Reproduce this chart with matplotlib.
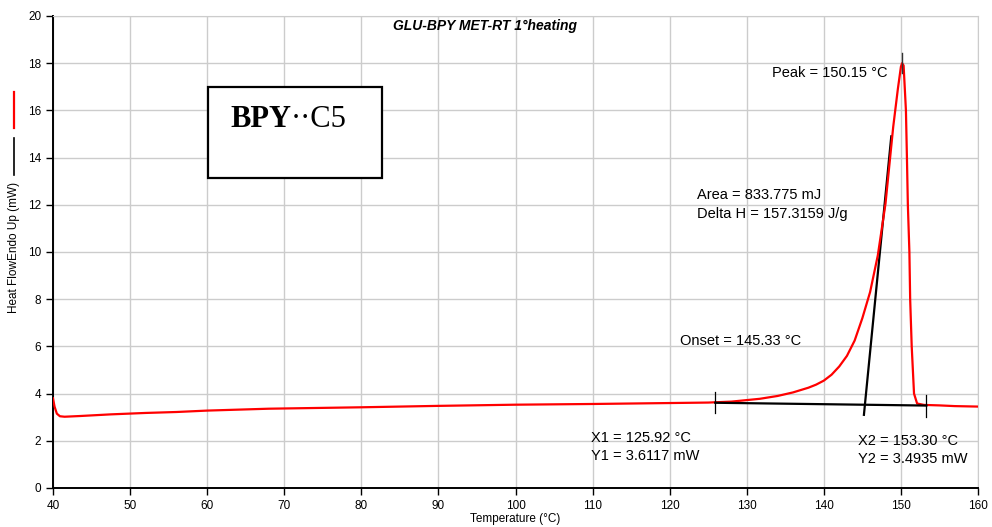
import matplotlib
matplotlib.use("Agg")
import matplotlib.pyplot as plt
from matplotlib.patches import Rectangle
from matplotlib.lines import Line2D

plt.rcParams['font.family'] = ['Liberation Sans', 'DejaVu Sans']

# DSC curve
temp = [40, 40.2, 40.5, 40.9, 41.5, 43.5, 47.5, 52, 56, 60, 64, 68, 72, 80, 90, 100,
        110, 120, 125, 128, 131.7, 134, 136, 138, 139, 140, 141, 142, 143, 144, 145,
        146, 147, 148, 149, 149.6, 150.0, 150.15, 150.35, 150.65, 150.78, 150.9, 151.1,
        151.2, 151.4, 151.7, 152.1, 153, 155, 157, 160]
flow = [3.8, 3.45, 3.15, 3.04, 3.02, 3.05, 3.12, 3.18, 3.22, 3.28, 3.32, 3.36, 3.38,
        3.42, 3.48, 3.53, 3.56, 3.6, 3.62, 3.66, 3.78, 3.9, 4.05, 4.25, 4.38, 4.55,
        4.8, 5.15, 5.6, 6.25, 7.2, 8.3, 9.85, 12.05, 15.3, 16.9, 17.85, 18.0, 17.9,
        16.0, 14.0, 12.0, 10.0, 8.0, 6.0, 4.0, 3.58, 3.52, 3.5, 3.47, 3.45]

x1, y1 = 125.92, 3.6117
x2, y2 = 153.30, 3.4935
onset = 145.33
peak_t, peak_h = 150.15, 18.0
tangent_t = [145.2, 148.75]
tangent_h = [3.1, 14.9]

fig = plt.figure(figsize=(9.92, 5.27), dpi=100)
ax = fig.add_axes([53/992, 39/527, 925/992, 472/527])

ax.plot(temp, flow, color='red', lw=1.6, zorder=3)
ax.plot([x1, x2], [y1, y2], color='black', lw=1.6, zorder=4)
ax.plot([x1, x1], [y1 - 0.45, y1 + 0.45], color='black', lw=0.9, zorder=4)
ax.plot([x2, x2], [y2 - 0.5, y2 + 0.45], color='black', lw=0.9, zorder=4)
ax.plot(tangent_t, tangent_h, color='black', lw=1.6, zorder=2.5)
ax.plot([peak_t, peak_t], [17.6, 18.42], color='#333333', lw=1.0, zorder=4)

ax.set_xlim(40, 160)
ax.set_ylim(0, 20)
ax.set_xticks(range(40, 161, 10))
ax.set_yticks(range(0, 21, 2))
ax.grid(True, color='#cccccc', lw=1.0)
ax.set_axisbelow(True)
for s in ['top', 'right']:
    ax.spines[s].set_color('#cccccc')
for s in ['left', 'bottom']:
    ax.spines[s].set_linewidth(1.4)
ax.tick_params(labelsize=8.5, length=5, width=1.0, colors='black')
ax.set_xlabel('Temperature (°C)', fontsize=8.5, labelpad=1)
ax.set_ylabel('Heat FlowEndo Up (mW)', fontsize=8.5)
ax.yaxis.set_label_coords(-0.0357, 0.51)

ax.text(96.0, 19.58, 'GLU-BPY MET-RT 1°heating', fontsize=10, fontweight='bold',
        fontstyle='italic', ha='center', va='center')

fs = 10.5
ax.text(133.3, 17.58, 'Peak = 150.15 °C', fontsize=fs, va='center')
ax.text(123.55, 12.4, 'Area = 833.775 mJ', fontsize=fs, va='center')
ax.text(123.55, 11.6, 'Delta H = 157.3159 J/g', fontsize=fs, va='center')
ax.text(121.3, 6.23, 'Onset = 145.33 °C', fontsize=fs, va='center')
ax.text(109.8, 2.12, 'X1 = 125.92 °C', fontsize=fs, va='center')
ax.text(109.8, 1.36, 'Y1 = 3.6117 mW', fontsize=fs, va='center')
ax.text(144.4, 2.0, 'X2 = 153.30 °C', fontsize=fs, va='center')
ax.text(144.4, 1.24, 'Y2 = 3.4935 mW', fontsize=fs, va='center')

box = Rectangle((60.1, 13.14), 22.6, 3.85, facecolor='white', edgecolor='black',
                lw=1.6, zorder=5)
ax.add_patch(box)
ax.text(63.0, 15.3, 'BPY', fontsize=22, fontweight='bold', family='Liberation Serif',
        va='baseline', zorder=6)
ax.text(70.9, 15.3, '··C5', fontsize=22, family='Liberation Serif',
        va='baseline', zorder=6)

# small series marks beside the y label
fig.add_artist(Line2D([13.5/992, 13.5/992], [1 - 92/527, 1 - 128/527], color='red', lw=1.6))
fig.add_artist(Line2D([13.5/992, 13.5/992], [1 - 138/527, 1 - 175/527], color='black', lw=1.2))

fig.savefig('out.png', dpi=100)
